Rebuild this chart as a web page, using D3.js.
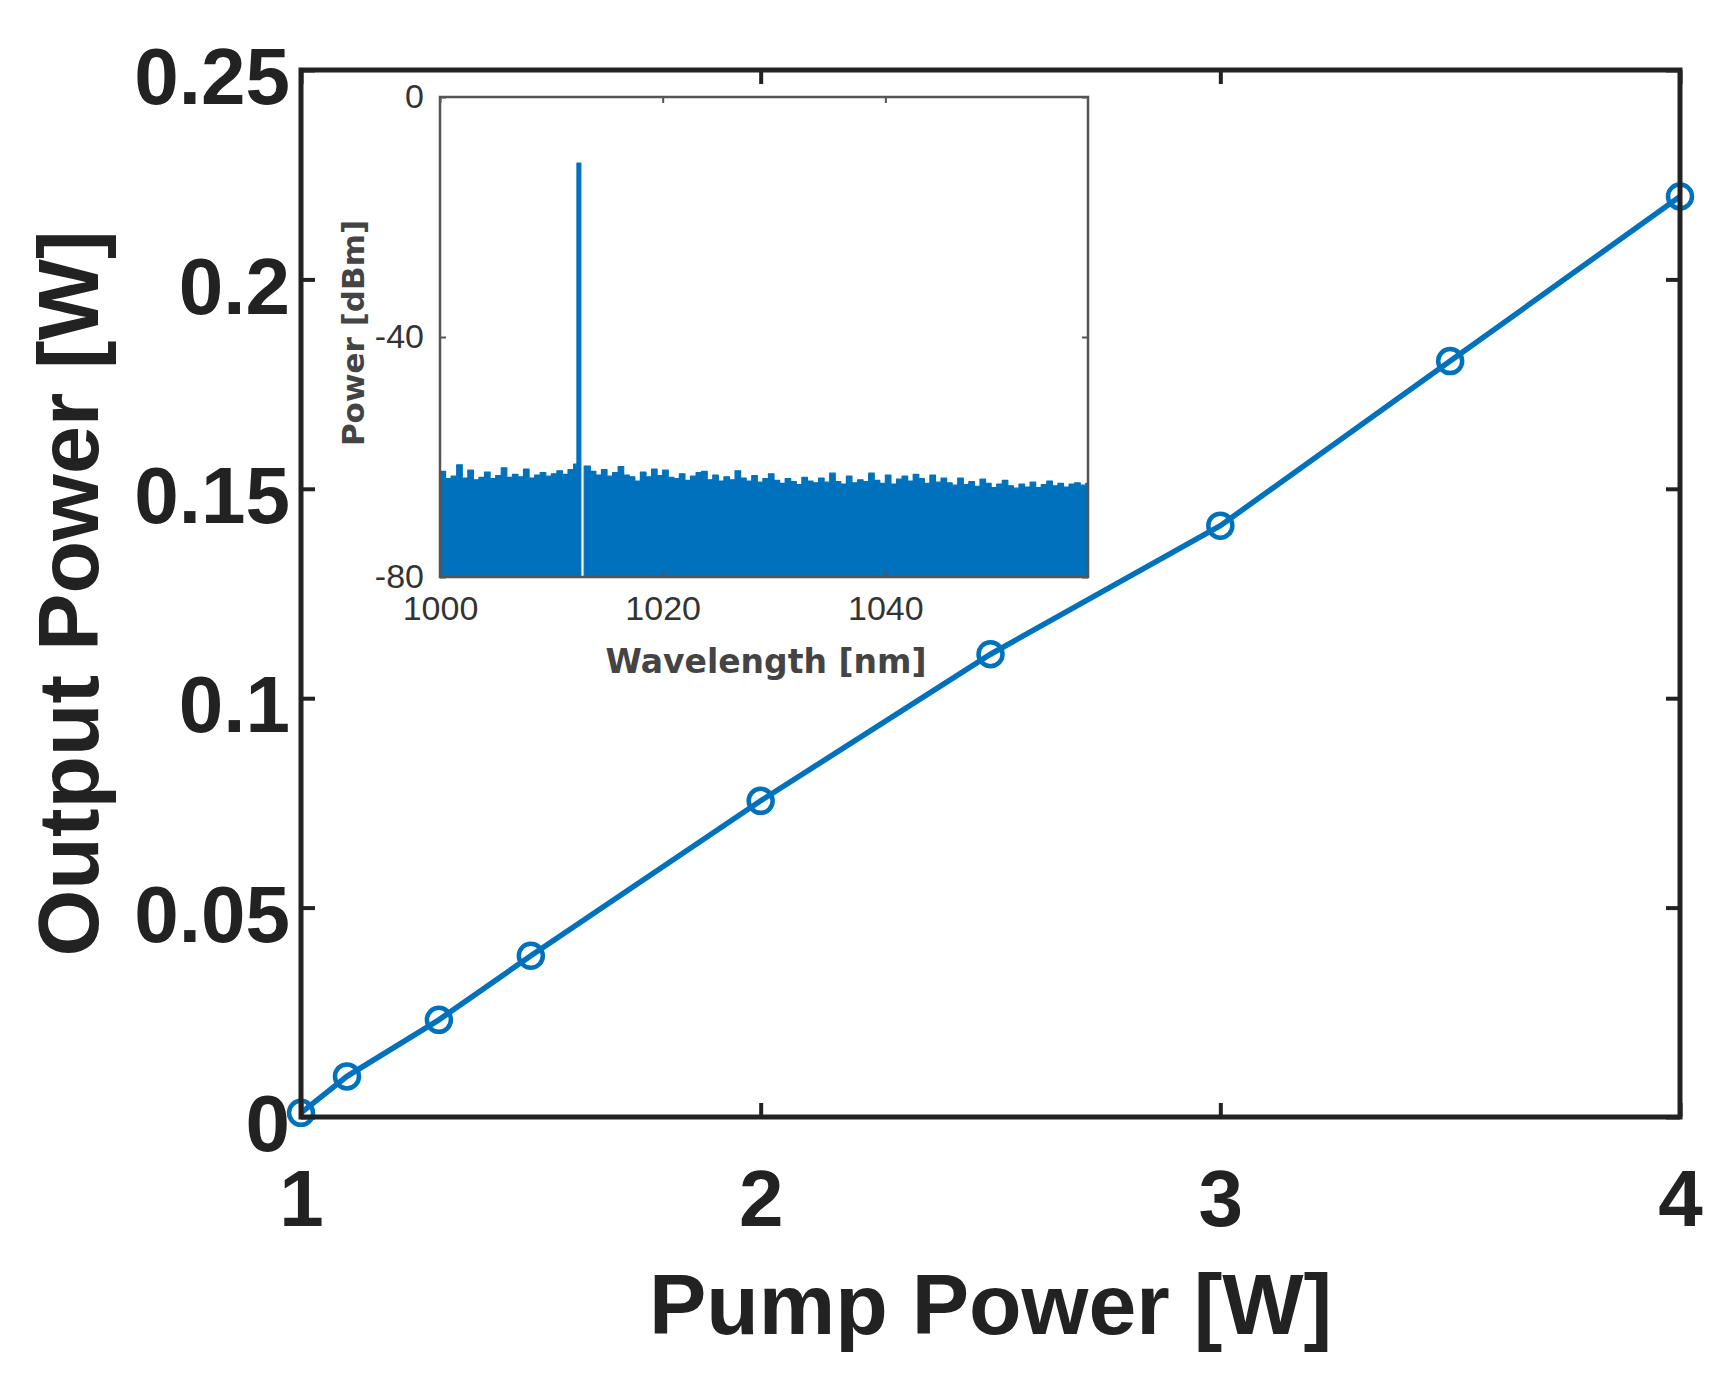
<!DOCTYPE html>
<html><head><meta charset="utf-8">
<script src="https://cdn.jsdelivr.net/npm/d3@7/dist/d3.min.js"></script>
<style>body{margin:0;background:#fff} svg{display:block}</style>
</head><body><svg id="c" width="1717" height="1384"></svg>
<script>
// ---- main data ----
const pumpPower = [1, 1.1, 1.3, 1.5, 2, 2.5, 3, 3.5, 4];
const outputPower = [0.001, 0.0097, 0.0232, 0.0385, 0.0755, 0.1105, 0.1412, 0.1805, 0.2198];
const xTicks = [1, 2, 3, 4];
const xTickLabels = ["1", "2", "3", "4"];
const yTicks = [0, 0.05, 0.1, 0.15, 0.2, 0.25];
const yTickLabels = ["0", "0.05", "0.1", "0.15", "0.2", "0.25"];
const xLabel = "Pump Power [W]";
const yLabel = "Output Power [W]";

// ---- inset data (spectrum upper envelope, step-wise) ----
const insetWavelength = [
  1000,1000.5,1001,1001.5,1002,1002.5,1003,1003.5,1004,1004.5,1005,1005.5,1006,1006.5,1007,1007.5,
  1008,1008.5,1009,1009.5,1010,1010.5,1011,1011.5,1012,
  1012.3,1012.65,1012.95,
  1013.5,1014,1014.5,1015,1015.5,1016,1016.5,1017,1017.5,1018,1018.5,1019,1019.5,1020,1020.5,
  1021,1021.5,1022,1022.5,1023,1023.5,1024,1024.5,1025,1025.5,1026,1026.5,1027,1027.5,1028,1028.5,
  1029,1029.5,1030,1030.5,1031,1031.5,1032,1032.5,1033,1033.5,1034,1034.5,1035,1035.5,1036,1036.5,
  1037,1037.5,1038,1038.5,1039,1039.5,1040,1040.5,1041,1041.5,1042,1042.5,1043,1043.5,1044,1044.5,
  1045,1045.5,1046,1046.5,1047,1047.5,1048,1048.5,1049,1049.5,1050,1050.5,1051,1051.5,1052,1052.5,
  1053,1053.5,1054,1054.5,1055,1055.5,1056,1056.5,1057,1057.5,1058,1058.2
];
const insetPower = [
  -62.4,-63.6,-63.2,-61.3,-63.5,-62.2,-63.8,-63.4,-62.5,-63.6,-63.1,-61.8,-63.4,-62.9,-63.3,-62.0,
  -63.5,-63.0,-62.6,-63.2,-62.8,-62.3,-62.9,-62.1,-61.2,
  -11,-80,-61.5,
  -62.4,-63.0,-62.1,-63.2,-62.6,-61.6,-63.0,-63.3,-64.0,-62.5,-63.3,-62.0,-63.1,-62.2,-63.4,
  -63.6,-62.8,-63.9,-63.2,-62.6,-62.4,-63.8,-63.0,-64.0,-63.3,-63.8,-62.3,-63.5,-64.0,-63.1,-64.2,
  -63.6,-62.8,-63.9,-64.4,-63.6,-64.1,-64.6,-63.4,-64.0,-64.3,-63.5,-64.2,-62.7,-64.1,-64.5,-63.2,
  -64.3,-63.8,-64.1,-62.7,-63.9,-64.4,-63.0,-64.5,-63.7,-63.2,-64.0,-62.9,-63.6,-64.4,-63.0,-64.2,
  -63.5,-64.3,-64.7,-63.5,-64.6,-64.1,-64.9,-63.7,-64.4,-65.1,-64.5,-63.9,-64.8,-65.2,-64.5,-65.0,
  -64.2,-65.1,-64.6,-64.0,-64.8,-64.4,-65.0,-64.5,-64.3,-64.7,-64.4,-64.6
];
const insetXTicks = [1000, 1020, 1040];
const insetYTicks = [0, -40, -80];
const insetXLabel = "Wavelength [nm]";
const insetYLabel = "Power [dBm]";

const blue = "#0072BD";
const ink = "#222";
const svg = d3.select("#c");

// ---- main axes ----
const M = {l: 301, r: 1680, t: 70, b: 1117};
const x = d3.scaleLinear().domain([1, 4]).range([M.l, M.r]);
const y = d3.scaleLinear().domain([0, 0.25]).range([M.b, M.t]);
const tickFont = "'Liberation Sans', Arial, sans-serif";

function styleAxis(g, showText, fs) {
  g.select(".domain").remove();
  g.selectAll(".tick line").attr("stroke", ink).attr("stroke-width", 4);
  g.selectAll(".tick text").attr("fill", ink).attr("font-family", tickFont)
    .attr("font-weight", "bold").attr("font-size", fs);
  if (!showText) g.selectAll(".tick text").remove();
}

svg.append("g").attr("transform", `translate(0,${M.b})`)
  .call(d3.axisBottom(x).tickValues(xTicks).tickFormat((d,i)=>xTickLabels[i]).tickSize(-14).tickPadding(52))
  .call(g => styleAxis(g, true, 80));
svg.append("g").attr("transform", `translate(0,${M.t})`)
  .call(d3.axisTop(x).tickValues(xTicks).tickSize(-14))
  .call(g => styleAxis(g, false, 80));
const yl = svg.append("g").attr("transform", `translate(${M.l},0)`)
  .call(d3.axisLeft(y).tickValues(yTicks).tickFormat((d,i)=>yTickLabels[i]).tickSize(-14).tickPadding(11))
  .call(g => styleAxis(g, true, 80));
yl.selectAll(".tick text").attr("dy", "0.42em");
svg.append("g").attr("transform", `translate(${M.r},0)`)
  .call(d3.axisRight(y).tickValues(yTicks).tickSize(-14))
  .call(g => styleAxis(g, false, 80));

// ---- inset ----
const I = {l: 440, r: 1088, t: 97, b: 577};
const xi = d3.scaleLinear().domain([1000, 1058.2]).range([I.l, I.r]);
const yi = d3.scaleLinear().domain([-80, 0]).range([I.b, I.t]);
svg.append("rect").attr("x", I.l).attr("y", I.t).attr("width", I.r - I.l).attr("height", I.b - I.t)
  .attr("fill", "#fff");
const spec = insetWavelength.map((w, i) => [w, insetPower[i]]);
svg.append("path").datum(spec)
  .attr("d", d3.area().curve(d3.curveStepAfter).x(d => xi(d[0])).y0(yi(-80)).y1(d => yi(d[1])))
  .attr("fill", blue).attr("stroke", blue).attr("stroke-width", 1.2).attr("stroke-linejoin", "round");

const insetFont = "'Liberation Sans', Arial, sans-serif";
function styleInset(g, showText) {
  g.select(".domain").remove();
  g.selectAll(".tick line").attr("stroke", "#555").attr("stroke-width", 2);
  g.selectAll(".tick text").attr("fill", "#333").attr("font-family", insetFont).attr("font-size", 34);
  if (!showText) g.selectAll(".tick text").remove();
}
svg.append("g").attr("transform", `translate(0,${I.b})`)
  .call(d3.axisBottom(xi).tickValues(insetXTicks).tickFormat(d3.format("d")).tickSize(-6).tickPadding(19))
  .call(g => styleInset(g, true));
svg.append("g").attr("transform", `translate(0,${I.t})`)
  .call(d3.axisTop(xi).tickValues(insetXTicks).tickSize(-6))
  .call(g => styleInset(g, false));
svg.append("g").attr("transform", `translate(${I.l},0)`)
  .call(d3.axisLeft(yi).tickValues(insetYTicks).tickFormat(d => d === 0 ? "0" : "-" + Math.abs(d)).tickSize(-6).tickPadding(16))
  .call(g => styleInset(g, true));
svg.append("g").attr("transform", `translate(${I.r},0)`)
  .call(d3.axisRight(yi).tickValues(insetYTicks).tickSize(-6))
  .call(g => styleInset(g, false));
svg.append("rect").attr("x", I.l).attr("y", I.t).attr("width", I.r - I.l).attr("height", I.b - I.t)
  .attr("fill", "none").attr("stroke", "#555").attr("stroke-width", 2.5);

svg.append("text").attr("x", (I.l + I.r) / 2 + 2).attr("y", 673)
  .attr("text-anchor", "middle").attr("font-family", "'DejaVu Sans', sans-serif").attr("font-weight", "bold")
  .attr("font-size", 33).attr("fill", "#444").text(insetXLabel);
svg.append("text").attr("transform", `translate(364,${(I.t + I.b) / 2 - 4}) rotate(-90)`)
  .attr("text-anchor", "middle").attr("font-family", "'DejaVu Sans', sans-serif").attr("font-weight", "bold")
  .attr("font-size", 31).attr("fill", "#444").text(insetYLabel);

// ---- main series ----
const pts = pumpPower.map((p, i) => [p, outputPower[i]]);
svg.append("path").datum(pts)
  .attr("d", d3.line().x(d => x(d[0])).y(d => y(d[1])))
  .attr("fill", "none").attr("stroke", blue).attr("stroke-width", 5.5);
svg.append("g").selectAll("circle").data(pts).join("circle")
  .attr("cx", d => x(d[0])).attr("cy", d => y(d[1])).attr("r", 12)
  .attr("fill", "none").attr("stroke", blue).attr("stroke-width", 4.5);

// frame
svg.append("rect").attr("x", M.l).attr("y", M.t).attr("width", M.r - M.l).attr("height", M.b - M.t)
  .attr("fill", "none").attr("stroke", ink).attr("stroke-width", 5);

// axis labels
svg.append("text").attr("x", (M.l + M.r) / 2).attr("y", 1334)
  .attr("text-anchor", "middle").attr("font-family", tickFont).attr("font-weight", "bold")
  .attr("font-size", 86).attr("fill", ink).text(xLabel);
svg.append("text").attr("transform", `translate(98,${(M.t + M.b) / 2}) rotate(-90)`)
  .attr("text-anchor", "middle").attr("font-family", tickFont).attr("font-weight", "bold")
  .attr("font-size", 86).attr("fill", ink).text(yLabel);
</script></body></html>
